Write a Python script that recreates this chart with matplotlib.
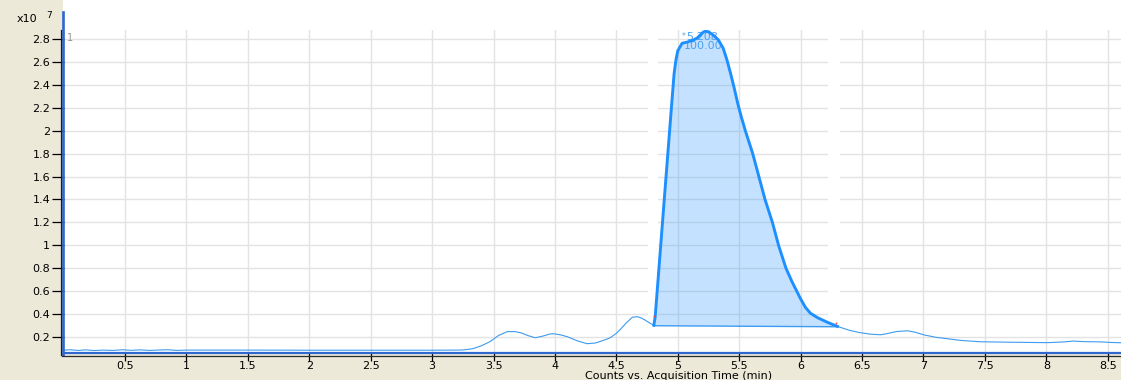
import numpy as np
import matplotlib
matplotlib.use("Agg")
import matplotlib.pyplot as plt
from matplotlib.patches import Rectangle
from matplotlib.lines import Line2D

# chromatogram trace, counts in units of 1e7
time_pre = [0.00, 0.05, 0.12, 0.18, 0.25, 0.32, 0.40, 0.48, 0.55, 0.62, 0.70, 0.78,
            0.85, 0.92, 1.00, 1.50, 2.00, 2.50, 3.00, 3.20, 3.25, 3.33, 3.40, 3.47,
            3.54, 3.61, 3.67, 3.72, 3.78, 3.84, 3.90, 3.96, 3.99, 4.05, 4.10, 4.18,
            4.26, 4.33, 4.40, 4.45, 4.50, 4.53, 4.58, 4.63, 4.67, 4.70, 4.73, 4.77,
            4.805]
counts_pre = [0.082, 0.086, 0.080, 0.085, 0.079, 0.083, 0.080, 0.086, 0.081, 0.085, 0.080, 0.084,
              0.086, 0.080, 0.083, 0.083, 0.082, 0.082, 0.082, 0.083, 0.084, 0.095, 0.120, 0.156,
              0.210, 0.244, 0.245, 0.235, 0.210, 0.191, 0.205, 0.224, 0.226, 0.215, 0.200, 0.165,
              0.139, 0.145, 0.170, 0.191, 0.230, 0.261, 0.320, 0.370, 0.375, 0.365, 0.348, 0.320,
              0.300]

# integrated peak
time_peak = [4.805, 4.816, 4.850, 4.900, 4.950, 4.970, 4.985, 5.000, 5.035, 5.076, 5.120, 5.157,
             5.190, 5.207, 5.223, 5.250, 5.290, 5.330, 5.370, 5.400, 5.430, 5.460, 5.490, 5.520,
             5.550, 5.610, 5.660, 5.710, 5.770, 5.820, 5.880, 5.930, 5.970, 6.000, 6.040, 6.080,
             6.140, 6.220, 6.300]
counts_peak = [0.300, 0.375, 0.846, 1.540, 2.230, 2.500, 2.620, 2.700, 2.765, 2.775, 2.790, 2.810,
               2.845, 2.862, 2.870, 2.866, 2.835, 2.795, 2.720, 2.620, 2.500, 2.370, 2.230, 2.110,
               2.000, 1.800, 1.600, 1.400, 1.200, 1.000, 0.800, 0.680, 0.595, 0.530, 0.455, 0.405,
               0.365, 0.325, 0.290]

time_post = [6.30, 6.40, 6.485, 6.57, 6.65, 6.70, 6.78, 6.87, 6.93, 7.00, 7.10, 7.19,
             7.30, 7.46, 7.70, 8.01, 8.15, 8.22, 8.30, 8.44, 8.52, 8.61]
counts_post = [0.290, 0.255, 0.235, 0.222, 0.217, 0.226, 0.245, 0.252, 0.240, 0.217, 0.195, 0.183,
               0.168, 0.156, 0.152, 0.148, 0.155, 0.162, 0.157, 0.155, 0.150, 0.147]

# integration baseline (start, end)
base_time = [4.805, 6.30]
base_counts = [0.296, 0.287]

peak_rt = 5.208
peak_pct = 100.00

y_ticks = [0.2, 0.4, 0.6, 0.8, 1.0, 1.2, 1.4, 1.6, 1.8, 2.0, 2.2, 2.4, 2.6, 2.8]
x_ticks = [0.5, 1.0, 1.5, 2.0, 2.5, 3.0, 3.5, 4.0, 4.5, 5.0, 5.5, 6.0, 6.5, 7.0, 7.5, 8.0, 8.5]

W, H = 1121, 380
BEIGE = "#ECE9D8"
TRACE = "#3D9BF0"
PEAK = "#1E8FFF"
FRAME = "#2F66D0"
GRID = "#E3E3E3"

plt.rcParams["font.family"] = ["DejaVu Sans"]
plt.rcParams["font.size"] = 8

fig = plt.figure(figsize=(W / 100, H / 100), dpi=100, facecolor=BEIGE)


def fx(px):
    return px / W


def fy(py):
    return 1 - py / H


ax = fig.add_axes([fx(63.6), fy(352.5), 1 - fx(63.6), fy(30) - fy(352.5)])
ax.set_facecolor("white")
ax.set_xlim(0, 8.608)
ax.set_ylim(0.062, 2.881)

# white strip above the plot area
fig.patches.append(Rectangle((fx(63), fy(30)), 1 - fx(63), 1 - fy(30),
                             transform=fig.transFigure, facecolor="white",
                             edgecolor="none", zorder=0))

ax.set_xticks(x_ticks)
ax.set_yticks(y_ticks)
ax.set_xticklabels([f"{t:g}" for t in x_ticks])
ax.set_yticklabels([f"{t:g}" for t in y_ticks])
ax.tick_params(axis="y", direction="out", length=8.4, width=0.9, pad=1.2, colors="black")
ax.tick_params(axis="x", direction="out", length=5.8, width=0.9, pad=0.6, colors="black")
ax.set_axisbelow(True)
ax.grid(True, color=GRID, linewidth=1.0)

for side in ["top", "right", "left"]:
    ax.spines[side].set_visible(False)
ax.spines["bottom"].set_color(FRAME)
ax.spines["bottom"].set_linewidth(1.6)

# gaps left in the grid around the peak labels
for t0, t1 in [(4.76, 4.84), (6.224, 6.322)]:
    ax.add_patch(Rectangle((t0, 0.366), t1 - t0, 2.881 - 0.366, facecolor="white",
                           edgecolor="none", zorder=1))

# trace
ax.plot(time_pre, counts_pre, color=TRACE, lw=0.8, zorder=3)
ax.plot(time_post, counts_post, color=TRACE, lw=0.8, zorder=3)

# integrated area
fill_t = list(time_peak) + base_time[::-1]
fill_c = list(counts_peak) + base_counts[::-1]
ax.fill(fill_t, fill_c, color="#1E90FF", alpha=0.26, lw=0, zorder=2)
ax.plot(base_time, base_counts, color=TRACE, lw=1.0, zorder=3)
ax.plot(time_peak, counts_peak, color=PEAK, lw=2.1, zorder=4, solid_joinstyle="round")
ax.plot([time_peak[0], base_time[1] - 0.01], [0.378, 0.322], ls="none", marker="s",
        ms=1.2, color="#FF4040", mew=0, zorder=5)

ax.text(5.03, 2.82, "*", color="#4AA0F0", fontsize=5.5, ha="left", va="center", zorder=3)
ax.text(5.07, 2.82, f"{peak_rt:.3f}", color="#4AA0F0", fontsize=8, ha="left",
        va="center", zorder=3)
ax.text(5.05, 2.74, f"{peak_pct:.2f}", color="#4AA0F0", fontsize=8, ha="left",
        va="center", zorder=3)
ax.text(0.03, 2.81, "1", color="#909090", fontsize=7, ha="left", va="center")

# frame lines drawn in figure coordinates
fig.lines.append(Line2D([fx(62.5), fx(62.5)], [fy(12), fy(355)], transform=fig.transFigure,
                        color=FRAME, lw=1.9))
fig.lines.append(Line2D([fx(60.6), fx(60.6)], [fy(30), fy(355)], transform=fig.transFigure,
                        color="#1A1A1A", lw=0.9))
fig.lines.append(Line2D([fx(62), 1], [fy(355.8), fy(355.8)], transform=fig.transFigure,
                        color="#2A2A2A", lw=0.9))

fig.text(fx(17), fy(19), "x10", fontsize=8, ha="left", va="center")
fig.text(fx(46), fy(15), "7", fontsize=6.5, ha="left", va="center")
fig.text(fx(679), fy(371), "Counts vs. Acquisition Time (min)", fontsize=8,
         ha="center", va="top")

fig.savefig("out.png", dpi=100, facecolor=BEIGE)
